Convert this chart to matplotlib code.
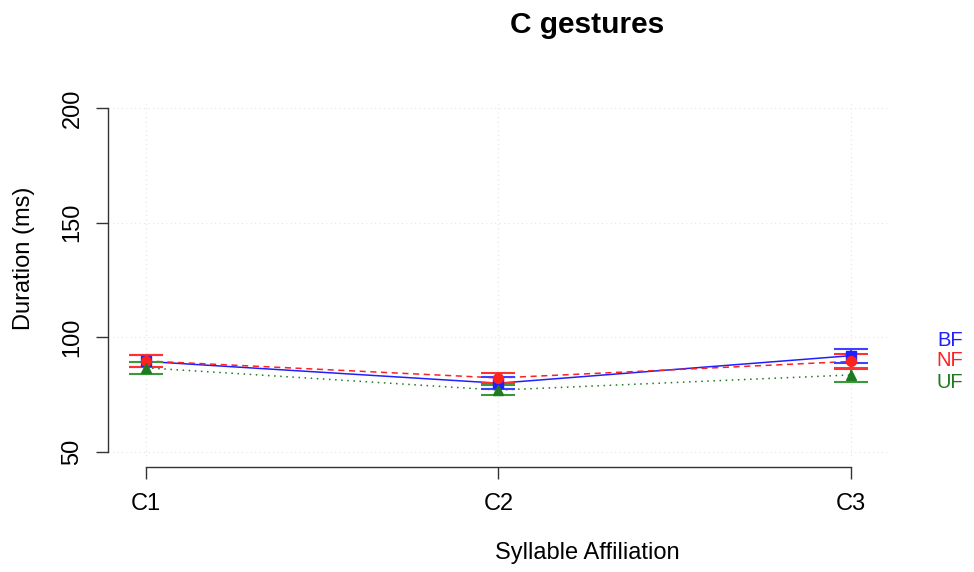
import matplotlib
matplotlib.use("Agg")
import matplotlib.pyplot as plt
import numpy as np

plt.rcParams['font.family'] = ['Liberation Sans', 'DejaVu Sans']

categories = ["C1", "C2", "C3"]
groups = ["BF", "NF", "UF"]
means = {
    "BF": [89.5, 80.0, 92.0],
    "NF": [89.7, 82.3, 89.5],
    "UF": [86.7, 77.0, 83.6],
}
errs = {
    "BF": [2.6, 2.6, 3.0],
    "NF": [2.6, 2.2, 3.2],
    "UF": [2.6, 2.3, 3.0],
}
colors = {"BF": "#1f1fff", "NF": "#ff2020", "UF": "#1e7a1e"}
capcolors = {"BF": "#4040ff", "NF": "#ff3030", "UF": "#3a9a3a"}
markers = {"BF": "s", "NF": "o", "UF": "^"}
styles = {"BF": "-", "NF": (0, (4, 3)), "UF": (0, (1, 3))}
yticks = [50, 100, 150, 200]

W, H = 974, 572
fig = plt.figure(figsize=(W/100, H/100), dpi=100)
L, R, T, B = 108, 890, 100, 460
ax = fig.add_axes([L/W, 1-B/H, (R-L)/W, (B-T)/H])

x = np.arange(1, len(categories)+1)
ppu_x = (851-146)/2
ax.set_xlim(1-(146-L)/ppu_x, 3+(R-851)/ppu_x)
ppu_y = (452-108)/150
ax.set_ylim(50-(B-452)/ppu_y, 200+(108-T)/ppu_y)

for g in groups:
    ax.plot(x, means[g], color=colors[g], linestyle=styles[g], linewidth=1.1, zorder=3)
for g in ["UF", "BF", "NF"]:
    ax.errorbar(x, means[g], yerr=errs[g], fmt='none', ecolor=capcolors[g],
                elinewidth=1.5, capsize=12.5, capthick=1.5, zorder=4)
for g in ["BF", "NF", "UF"]:
    ax.plot(x, means[g], linestyle='none', marker=markers[g], color=colors[g],
            markersize=7, zorder=5)

# grid
for yv in yticks:
    ax.axhline(yv, color='#e4e4e4', linestyle=(0, (1, 3)), linewidth=0.8, zorder=0)
for xv in x:
    ax.axvline(xv, color='#e4e4e4', linestyle=(0, (1, 3)), linewidth=0.8, zorder=0)

ax.spines['top'].set_visible(False)
ax.spines['right'].set_visible(False)
ax.spines['left'].set_bounds(50, 200)
ax.spines['bottom'].set_bounds(1, 3)
ax.spines['bottom'].set_position(('outward', 7*0.72))
for s in ['left', 'bottom']:
    ax.spines[s].set_color('#333333')
    ax.spines[s].set_linewidth(1.0)

ax.set_xticks(x)
ax.set_xticklabels(categories, fontsize=17)
ax.set_yticks(yticks)
ax.set_yticklabels([str(v) for v in yticks], fontsize=17, rotation=90, va='center')
ax.tick_params(axis='both', length=8.6, width=1.0, color='#333333')
ax.tick_params(axis='x', pad=10)
ax.tick_params(axis='y', pad=9)

ax.set_ylabel("Duration (ms)", fontsize=17)
ax.yaxis.set_label_coords((24-L)/(R-L), (B-258)/(B-T))
ax.set_xlabel("Syllable Affiliation", fontsize=17)
ax.xaxis.set_label_coords((587-L)/(R-L), (B-553)/(B-T))
ax.xaxis.label.set_va('center')
ax.yaxis.label.set_va('center')
fig.text(587/W, 1-25/H, "C gestures", ha='center', va='center', fontsize=21.5, fontweight='bold')

label_y = {"BF": 340, "NF": 361, "UF": 382}
for g in groups:
    fig.text(950/W, 1-label_y[g]/H, g, color=colors[g], fontsize=14.5, ha='center', va='center')

fig.savefig("out.png", dpi=100)
